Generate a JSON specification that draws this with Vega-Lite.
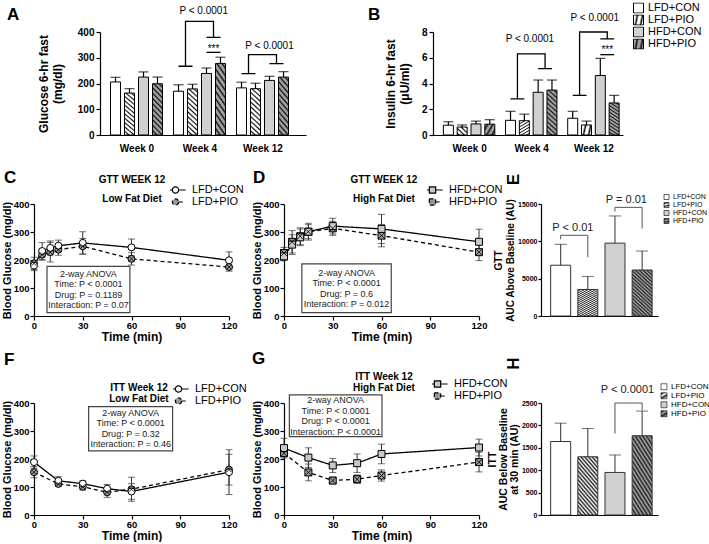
{
"$schema":"https://vega.github.io/schema/vega-lite/v6.json",
"padding":{"left":1,"top":2,"right":0,"bottom":0},
"autosize":{"type":"pad"},
"config":{
 "font":"Liberation Sans",
 "view":{"stroke":null},
 "axis":{"grid":false,"domainColor":"black","tickColor":"black","labelColor":"black","titleColor":"black","labelFontWeight":"bold","titleFontWeight":"bold","labelFontSize":10,"titleFontSize":12,"tickSize":4,"domainWidth":1.2,"tickWidth":1.2,"labelPadding":2,"titlePadding":2,"labelFlush":false,"labelOverlap":false},
 "legend":{"labelColor":"black","labelFontWeight":"normal"},
 "title":{"fontSize":17,"fontWeight":"bold","anchor":"start","frame":"group","offset":0,"baseline":"alphabetic","align":"left","color":"black"}
},
"params":[
 {"name":"gAW","expr":"{gradient:'linear',x1:1,y1:0,x2:0,y2:5,stops:[{offset:0,color:'#fff'},{offset:0.007,color:'#fff'},{offset:0.013,color:'#111'},{offset:0.02,color:'#fff'},{offset:0.027,color:'#fff'},{offset:0.033,color:'#111'},{offset:0.04,color:'#fff'},{offset:0.047,color:'#fff'},{offset:0.053,color:'#111'},{offset:0.06,color:'#fff'},{offset:0.067,color:'#fff'},{offset:0.073,color:'#111'},{offset:0.08,color:'#fff'},{offset:0.087,color:'#fff'},{offset:0.093,color:'#111'},{offset:0.1,color:'#fff'},{offset:0.107,color:'#fff'},{offset:0.113,color:'#111'},{offset:0.12,color:'#fff'},{offset:0.127,color:'#fff'},{offset:0.133,color:'#111'},{offset:0.14,color:'#fff'},{offset:0.147,color:'#fff'},{offset:0.153,color:'#111'},{offset:0.16,color:'#fff'},{offset:0.167,color:'#fff'},{offset:0.173,color:'#111'},{offset:0.18,color:'#fff'},{offset:0.187,color:'#fff'},{offset:0.193,color:'#111'},{offset:0.2,color:'#fff'},{offset:0.207,color:'#fff'},{offset:0.213,color:'#111'},{offset:0.22,color:'#fff'},{offset:0.227,color:'#fff'},{offset:0.233,color:'#111'}]}"},
 {"name":"gAG","expr":"{gradient:'linear',x1:1,y1:0,x2:0,y2:5,stops:[{offset:0,color:'#a0a0a0'},{offset:0.007,color:'#a0a0a0'},{offset:0.013,color:'#111'},{offset:0.02,color:'#a0a0a0'},{offset:0.027,color:'#a0a0a0'},{offset:0.033,color:'#111'},{offset:0.04,color:'#a0a0a0'},{offset:0.047,color:'#a0a0a0'},{offset:0.053,color:'#111'},{offset:0.06,color:'#a0a0a0'},{offset:0.067,color:'#a0a0a0'},{offset:0.073,color:'#111'},{offset:0.08,color:'#a0a0a0'},{offset:0.087,color:'#a0a0a0'},{offset:0.093,color:'#111'},{offset:0.1,color:'#a0a0a0'},{offset:0.107,color:'#a0a0a0'},{offset:0.113,color:'#111'},{offset:0.12,color:'#a0a0a0'},{offset:0.127,color:'#a0a0a0'},{offset:0.133,color:'#111'},{offset:0.14,color:'#a0a0a0'},{offset:0.147,color:'#a0a0a0'},{offset:0.153,color:'#111'},{offset:0.16,color:'#a0a0a0'},{offset:0.167,color:'#a0a0a0'},{offset:0.173,color:'#111'},{offset:0.18,color:'#a0a0a0'},{offset:0.187,color:'#a0a0a0'},{offset:0.193,color:'#111'},{offset:0.2,color:'#a0a0a0'},{offset:0.207,color:'#a0a0a0'},{offset:0.213,color:'#111'},{offset:0.22,color:'#a0a0a0'},{offset:0.227,color:'#a0a0a0'},{offset:0.233,color:'#111'}]}"},
 {"name":"gEW","expr":"{gradient:'linear',x1:1,y1:0,x2:0,y2:2.5,stops:[{offset:0,color:'#fff'},{offset:0.013,color:'#222'},{offset:0.026,color:'#fff'},{offset:0.039,color:'#222'},{offset:0.052,color:'#fff'},{offset:0.065,color:'#222'},{offset:0.078,color:'#fff'},{offset:0.091,color:'#222'},{offset:0.104,color:'#fff'},{offset:0.117,color:'#222'},{offset:0.13,color:'#fff'},{offset:0.143,color:'#222'},{offset:0.156,color:'#fff'},{offset:0.169,color:'#222'},{offset:0.182,color:'#fff'},{offset:0.195,color:'#222'},{offset:0.208,color:'#fff'},{offset:0.221,color:'#222'},{offset:0.234,color:'#fff'},{offset:0.247,color:'#222'},{offset:0.26,color:'#fff'},{offset:0.273,color:'#222'},{offset:0.286,color:'#fff'},{offset:0.299,color:'#222'},{offset:0.312,color:'#fff'},{offset:0.325,color:'#222'},{offset:0.338,color:'#fff'},{offset:0.351,color:'#222'},{offset:0.364,color:'#fff'},{offset:0.377,color:'#222'},{offset:0.39,color:'#fff'},{offset:0.403,color:'#222'},{offset:0.416,color:'#fff'},{offset:0.429,color:'#222'},{offset:0.442,color:'#fff'},{offset:0.455,color:'#222'},{offset:0.468,color:'#fff'},{offset:0.481,color:'#222'},{offset:0.494,color:'#fff'}]}"},
 {"name":"gEG","expr":"{gradient:'linear',x1:1,y1:0,x2:0,y2:2.5,stops:[{offset:0,color:'#aaa'},{offset:0.013,color:'#222'},{offset:0.026,color:'#aaa'},{offset:0.039,color:'#222'},{offset:0.052,color:'#aaa'},{offset:0.065,color:'#222'},{offset:0.078,color:'#aaa'},{offset:0.091,color:'#222'},{offset:0.104,color:'#aaa'},{offset:0.117,color:'#222'},{offset:0.13,color:'#aaa'},{offset:0.143,color:'#222'},{offset:0.156,color:'#aaa'},{offset:0.169,color:'#222'},{offset:0.182,color:'#aaa'},{offset:0.195,color:'#222'},{offset:0.208,color:'#aaa'},{offset:0.221,color:'#222'},{offset:0.234,color:'#aaa'},{offset:0.247,color:'#222'},{offset:0.26,color:'#aaa'},{offset:0.273,color:'#222'},{offset:0.286,color:'#aaa'},{offset:0.299,color:'#222'},{offset:0.312,color:'#aaa'},{offset:0.325,color:'#222'},{offset:0.338,color:'#aaa'},{offset:0.351,color:'#222'},{offset:0.364,color:'#aaa'},{offset:0.377,color:'#222'},{offset:0.39,color:'#aaa'},{offset:0.403,color:'#222'},{offset:0.416,color:'#aaa'},{offset:0.429,color:'#222'},{offset:0.442,color:'#aaa'},{offset:0.455,color:'#222'},{offset:0.468,color:'#aaa'},{offset:0.481,color:'#222'},{offset:0.494,color:'#aaa'}]}"}
],
"datasets":{
 "barsA":[
  {"week":"Week 0","group":"LFD+CON","x":0,"y":206,"err":18},
  {"week":"Week 0","group":"LFD+PIO","x":1,"y":163,"err":17},
  {"week":"Week 0","group":"HFD+CON","x":2,"y":225,"err":20},
  {"week":"Week 0","group":"HFD+PIO","x":3,"y":199,"err":26},
  {"week":"Week 4","group":"LFD+CON","x":4.5,"y":170,"err":25},
  {"week":"Week 4","group":"LFD+PIO","x":5.5,"y":179,"err":18},
  {"week":"Week 4","group":"HFD+CON","x":6.5,"y":239,"err":21},
  {"week":"Week 4","group":"HFD+PIO","x":7.5,"y":278,"err":24},
  {"week":"Week 12","group":"LFD+CON","x":9,"y":183,"err":22},
  {"week":"Week 12","group":"LFD+PIO","x":10,"y":180,"err":21},
  {"week":"Week 12","group":"HFD+CON","x":11,"y":212,"err":16},
  {"week":"Week 12","group":"HFD+PIO","x":12,"y":225,"err":21}
 ],
 "brkA":[
  {"id":"w4","i":0,"x":4.5,"y":267},{"id":"w4","i":1,"x":5.5,"y":267},{"id":"w4","i":2,"x":5,"y":267},{"id":"w4","i":3,"x":5,"y":441},{"id":"w4","i":4,"x":7,"y":441},{"id":"w4","i":5,"x":7,"y":379},{"id":"w4","i":6,"x":6.5,"y":379},{"id":"w4","i":7,"x":7.5,"y":379},
  {"id":"st","i":0,"x":6.5,"y":321},{"id":"st","i":1,"x":7.5,"y":321},
  {"id":"w12","i":0,"x":9,"y":238},{"id":"w12","i":1,"x":10,"y":238},{"id":"w12","i":2,"x":9.5,"y":238},{"id":"w12","i":3,"x":9.5,"y":312},{"id":"w12","i":4,"x":11.5,"y":312},{"id":"w12","i":5,"x":11.5,"y":277},{"id":"w12","i":6,"x":11,"y":277},{"id":"w12","i":7,"x":12,"y":277}
 ],
 "txtA":[{"x":6.3,"y":480,"text":"P < 0.0001"},{"x":7,"y":333,"text":"***"},{"x":11,"y":346,"text":"P < 0.0001"}],
 "barsB":[
  {"week":"Week 0","group":"LFD+CON","x":0,"y":0.76,"err":0.27},
  {"week":"Week 0","group":"LFD+PIO","x":1,"y":0.62,"err":0.16},
  {"week":"Week 0","group":"HFD+CON","x":2,"y":0.86,"err":0.22},
  {"week":"Week 0","group":"HFD+PIO","x":3,"y":0.84,"err":0.35},
  {"week":"Week 4","group":"LFD+CON","x":4.5,"y":1.14,"err":0.7},
  {"week":"Week 4","group":"LFD+PIO","x":5.5,"y":1.11,"err":0.51},
  {"week":"Week 4","group":"HFD+CON","x":6.5,"y":3.32,"err":0.95},
  {"week":"Week 4","group":"HFD+PIO","x":7.5,"y":3.49,"err":0.78},
  {"week":"Week 12","group":"LFD+CON","x":9,"y":1.3,"err":0.54},
  {"week":"Week 12","group":"LFD+PIO","x":10,"y":0.78,"err":0.3},
  {"week":"Week 12","group":"HFD+CON","x":11,"y":4.62,"err":1.33},
  {"week":"Week 12","group":"HFD+PIO","x":12,"y":2.49,"err":0.59}
 ],
 "brkB":[
  {"id":"w4","i":0,"x":4.5,"y":2.81},{"id":"w4","i":1,"x":5.5,"y":2.81},{"id":"w4","i":2,"x":5,"y":2.81},{"id":"w4","i":3,"x":5,"y":6.3},{"id":"w4","i":4,"x":7,"y":6.3},{"id":"w4","i":5,"x":7,"y":5.16},{"id":"w4","i":6,"x":6.5,"y":5.16},{"id":"w4","i":7,"x":7.5,"y":5.16},
  {"id":"w12","i":0,"x":9,"y":3.08},{"id":"w12","i":1,"x":10,"y":3.08},{"id":"w12","i":2,"x":9.5,"y":3.08},{"id":"w12","i":3,"x":9.5,"y":8.0},{"id":"w12","i":4,"x":11.5,"y":8.0},{"id":"w12","i":5,"x":11.5,"y":7.46},{"id":"w12","i":6,"x":11,"y":7.46},{"id":"w12","i":7,"x":12,"y":7.46},
  {"id":"st","i":0,"x":11,"y":6.24},{"id":"st","i":1,"x":12,"y":6.24}
 ],
 "txtB":[{"x":5.9,"y":7.43,"text":"P < 0.0001"},{"x":10.6,"y":9.1,"text":"P < 0.0001"},{"x":11.5,"y":6.6,"text":"***"}],
 "gttL":[
  {"group":"LFD+PIO","x":0,"y":188,"err":22},{"group":"LFD+PIO","x":5,"y":219,"err":20},{"group":"LFD+PIO","x":10,"y":228,"err":35},{"group":"LFD+PIO","x":15,"y":237,"err":20},{"group":"LFD+PIO","x":30,"y":249,"err":28},{"group":"LFD+PIO","x":60,"y":204,"err":22},{"group":"LFD+PIO","x":120,"y":175,"err":15},
  {"group":"LFD+CON","x":0,"y":180,"err":18},{"group":"LFD+CON","x":5,"y":232,"err":30},{"group":"LFD+CON","x":10,"y":243,"err":25},{"group":"LFD+CON","x":15,"y":251,"err":20},{"group":"LFD+CON","x":30,"y":261,"err":40},{"group":"LFD+CON","x":60,"y":245,"err":30},{"group":"LFD+CON","x":120,"y":199,"err":30}
 ],
 "gttH":[
  {"group":"HFD+PIO","x":0,"y":225,"err":20},{"group":"HFD+PIO","x":5,"y":265,"err":40},{"group":"HFD+PIO","x":10,"y":285,"err":30},{"group":"HFD+PIO","x":15,"y":301,"err":25},{"group":"HFD+PIO","x":30,"y":313,"err":25},{"group":"HFD+PIO","x":60,"y":287,"err":40},{"group":"HFD+PIO","x":120,"y":228,"err":30},
  {"group":"HFD+CON","x":0,"y":213,"err":15},{"group":"HFD+CON","x":5,"y":255,"err":35},{"group":"HFD+CON","x":10,"y":281,"err":30},{"group":"HFD+CON","x":15,"y":301,"err":30},{"group":"HFD+CON","x":30,"y":321,"err":28},{"group":"HFD+CON","x":60,"y":311,"err":52},{"group":"HFD+CON","x":120,"y":265,"err":45}
 ],
 "ittL":[
  {"group":"LFD+PIO","x":0,"y":153,"err":20},{"group":"LFD+PIO","x":15,"y":111,"err":8},{"group":"LFD+PIO","x":30,"y":101,"err":12},{"group":"LFD+PIO","x":45,"y":81,"err":18},{"group":"LFD+PIO","x":60,"y":92,"err":43},{"group":"LFD+PIO","x":120,"y":162,"err":55},
  {"group":"LFD+CON","x":0,"y":189,"err":22},{"group":"LFD+CON","x":15,"y":122,"err":15},{"group":"LFD+CON","x":30,"y":112,"err":10},{"group":"LFD+CON","x":45,"y":94,"err":15},{"group":"LFD+CON","x":60,"y":84,"err":28},{"group":"LFD+CON","x":120,"y":153,"err":80}
 ],
 "ittH":[
  {"group":"HFD+PIO","x":0,"y":221,"err":10},{"group":"HFD+PIO","x":15,"y":152,"err":30},{"group":"HFD+PIO","x":30,"y":123,"err":12},{"group":"HFD+PIO","x":45,"y":128,"err":15},{"group":"HFD+PIO","x":60,"y":141,"err":20},{"group":"HFD+PIO","x":120,"y":189,"err":35},
  {"group":"HFD+CON","x":0,"y":239,"err":35},{"group":"HFD+CON","x":15,"y":205,"err":35},{"group":"HFD+CON","x":30,"y":177,"err":25},{"group":"HFD+CON","x":45,"y":185,"err":33},{"group":"HFD+CON","x":60,"y":218,"err":35},{"group":"HFD+CON","x":120,"y":241,"err":30}
 ],
 "boxC":[{"x":8,"x2":59,"y":177,"y2":12}],
 "anvC":[{"x":33.5,"y":151,"text":"2-way ANOVA"},{"x":33.5,"y":113,"text":"Time: P < 0.0001"},{"x":33.5,"y":76,"text":"Drug: P = 0.1189"},{"x":33.5,"y":38,"text":"Interaction: P = 0.07"}],
 "ttlC":[{"x":60.3,"y":486,"text":"GTT WEEK 12"},{"x":60.3,"y":418,"text":"Low Fat Diet"}],
 "boxD":[{"x":11,"x2":66,"y":186,"y2":12}],
 "anvD":[{"x":38.5,"y":155,"text":"2-way ANOVA"},{"x":38.5,"y":118,"text":"Time: P < 0.0001"},{"x":38.5,"y":80,"text":"Drug: P = 0.6"},{"x":38.5,"y":43,"text":"Interaction: P = 0.012"}],
 "ttlD":[{"x":61.5,"y":486,"text":"GTT WEEK 12"},{"x":61.5,"y":418,"text":"High Fat Diet"}],
 "boxF":[{"x":33.6,"x2":85.3,"y":387,"y2":229}],
 "anvF":[{"x":59.5,"y":364,"text":"2-way ANOVA"},{"x":59.5,"y":327,"text":"Time: P < 0.0001"},{"x":59.5,"y":289,"text":"Drug: P = 0.32"},{"x":59.5,"y":252,"text":"Interaction: P = 0.46"}],
 "ttlF":[{"x":64.6,"y":454,"text":"ITT Week 12"},{"x":64.6,"y":414,"text":"Low Fat Diet"}],
 "boxG":[{"x":3.3,"x2":60.3,"y":429,"y2":280}],
 "anvG":[{"x":31.8,"y":411,"text":"2-way ANOVA"},{"x":31.8,"y":373,"text":"Time: P < 0.0001"},{"x":31.8,"y":336,"text":"Drug: P < 0.0001"},{"x":31.8,"y":298,"text":"Interaction: P < 0.0001"}],
 "ttlG":[{"x":61.5,"y":494,"text":"ITT Week 12"},{"x":61.5,"y":453,"text":"High Fat Diet"}],
 "aucE":[{"group":"LFD+CON","x":1,"y":6800,"err":2800},{"group":"LFD+PIO","x":2,"y":3550,"err":1750},{"group":"HFD+CON","x":3,"y":9760,"err":3640},{"group":"HFD+PIO","x":4,"y":6160,"err":2540}],
 "brkE":[{"id":"a","i":0,"x":1,"y":10270},{"id":"a","i":1,"x":1,"y":10810},{"id":"a","i":2,"x":2,"y":10810},{"id":"a","i":3,"x":2,"y":7870},{"id":"b","i":0,"x":3,"y":14000},{"id":"b","i":1,"x":3,"y":14550},{"id":"b","i":2,"x":4,"y":14550},{"id":"b","i":3,"x":4,"y":11730}],
 "txtE":[{"x":1.45,"y":11820,"text":"P < 0.01"},{"x":3.42,"y":15590,"text":"P = 0.01"}],
 "aucH":[{"group":"LFD+CON","x":1,"y":1640,"err":410},{"group":"LFD+PIO","x":2,"y":1300,"err":630},{"group":"HFD+CON","x":3,"y":950,"err":390},{"group":"HFD+PIO","x":4,"y":1770,"err":550}],
 "brkH":[{"id":"a","i":0,"x":3,"y":1818},{"id":"a","i":1,"x":3,"y":2500},{"id":"a","i":2,"x":4,"y":2500},{"id":"a","i":3,"x":4,"y":2334}],
 "txtH":[{"x":3.46,"y":2780,"text":"P < 0.0001"}]
},
"spacing":15,
"resolve":{"scale":{"x":"independent","y":"independent","fill":"independent","strokeDash":"independent"},"legend":{"fill":"independent","strokeDash":"independent"}},
"vconcat":[
 {"bounds":"flush","spacing":0,
  "resolve":{"scale":{"x":"independent","y":"independent","fill":"independent"},"legend":{"fill":"independent"}},
  "hconcat":[
   {"width":66,"height":1,"data":{"values":[]},"mark":"point"},
   {"width":206,"height":103,
    "title":{"text":"A","dx":-93,"dy":22},
    "encoding":{
     "x":{"field":"x","type":"quantitative","scale":{"domain":[-0.75,13.25],"nice":false,"zero":false},"axis":{"values":[1.5,6,10.5],"labelExpr":"datum.value == 1.5 ? 'Week 0' : datum.value == 6 ? 'Week 4' : 'Week 12'","ticks":false,"title":null,"labelPadding":8}},
     "y":{"field":"y","type":"quantitative","scale":{"domain":[0,400],"nice":false},"axis":{"values":[0,100,200,300,400],"title":["Glucose 6-hr fast","(mg/dl)"],"titlePadding":13,"titleLineHeight":14}}
    },
    "layer":[
     {"data":{"name":"barsA"},"mark":{"type":"errorbar","color":"black","thickness":1.2,"ticks":{"size":10,"color":"black"}},"encoding":{"yError":{"field":"err"}}},
     {"data":{"name":"barsA"},"mark":{"type":"bar","size":10,"orient":"vertical","stroke":"black","strokeWidth":1},"encoding":{"fill":{"field":"group","type":"nominal","scale":{"domain":["LFD+CON","LFD+PIO","HFD+CON","HFD+PIO"],"range":["#ffffff",{"expr":"gAW"},"#d0d0d0",{"expr":"gAG"}]},"legend":null}}},
     {"data":{"name":"brkA"},"mark":{"type":"line","color":"black","strokeWidth":1.3},"encoding":{"detail":{"field":"id"},"order":{"field":"i","type":"quantitative"}}},
     {"data":{"name":"txtA"},"mark":{"type":"text","fontSize":10,"color":"black"},"encoding":{"text":{"field":"text"}}}
    ]
   },
   {"width":127,"height":1,"data":{"values":[]},"mark":"point"},
   {"width":190,"height":103,
    "title":{"text":"B","dx":-65,"dy":25.5},
    "encoding":{
     "x":{"field":"x","type":"quantitative","scale":{"domain":[-0.75,12.28],"nice":false,"zero":false},"axis":{"values":[1.5,6,10.5],"labelExpr":"datum.value == 1.5 ? 'Week 0' : datum.value == 6 ? 'Week 4' : 'Week 12'","ticks":false,"title":null,"labelPadding":8}},
     "y":{"field":"y","type":"quantitative","scale":{"domain":[0,8],"nice":false},"axis":{"values":[0,2,4,6,8],"title":["Insulin 6-hr fast","(μU/ml)"],"titlePadding":10,"titleLineHeight":14}}
    },
    "layer":[
     {"data":{"name":"barsB"},"mark":{"type":"errorbar","color":"black","thickness":1.2,"ticks":{"size":10,"color":"black"}},"encoding":{"yError":{"field":"err"}}},
     {"data":{"name":"barsB"},"mark":{"type":"bar","size":10,"orient":"vertical","stroke":"black","strokeWidth":1},"encoding":{"fill":{"field":"group","type":"nominal","scale":{"domain":["LFD+CON","LFD+PIO","HFD+CON","HFD+PIO"],"range":["#ffffff",{"expr":"gAW"},"#d0d0d0",{"expr":"gAG"}]},"legend":{"title":null,"orient":"none","legendX":200,"legendY":-29.5,"symbolType":"square","symbolSize":100,"symbolStrokeColor":"black","symbolStrokeWidth":1,"labelFontSize":11,"rowPadding":0,"clipHeight":11,"padding":0,"labelOffset":4}}}},
     {"data":{"name":"brkB"},"mark":{"type":"line","color":"black","strokeWidth":1.3},"encoding":{"detail":{"field":"id"},"order":{"field":"i","type":"quantitative"}}},
     {"data":{"name":"txtB"},"mark":{"type":"text","fontSize":10,"color":"black"},"encoding":{"text":{"field":"text"}}}
    ]
   }
  ]
 },
 {"spacing":6,
  "resolve":{"scale":{"x":"independent","y":"independent","fill":"independent","strokeDash":"independent"},"legend":{"fill":"independent","strokeDash":"independent"}},
  "vconcat":[
   {"bounds":"flush","spacing":0,
    "resolve":{"scale":{"x":"independent","y":"independent","fill":"independent","strokeDash":"independent"},"legend":{"fill":"independent","strokeDash":"independent"}},
    "hconcat":[
     {"width":195,"height":112,
      "title":{"text":"C","dx":-30,"dy":16},
      "encoding":{
       "x":{"field":"x","type":"quantitative","scale":{"domain":[0,120],"nice":false,"zero":false},"axis":{"values":[0,30,60,90,120],"title":"Time (min)","titlePadding":2,"labelFontSize":9.5,"labelPadding":0}},
       "y":{"field":"y","type":"quantitative","scale":{"domain":[0,400],"nice":false},"axis":{"values":[0,100,200,300,400],"title":"Blood Glucose (mg/dl)","titleFontSize":11,"titlePadding":1,"labelFontSize":9.5,"labelPadding":1}}
      },
      "layer":[
       {"data":{"name":"gttL"},"mark":{"type":"errorbar","color":"#333","thickness":1,"ticks":{"size":7,"color":"#333"}},"encoding":{"yError":{"field":"err"}}},
       {"data":{"name":"gttL"},"mark":{"type":"line","color":"black","strokeWidth":1.3},"encoding":{"strokeDash":{"field":"group","type":"nominal","scale":{"domain":["LFD+CON","LFD+PIO"],"range":[[1,0],[4,3]]},"legend":{"title":null,"orient":"none","legendX":136,"legendY":-19.5,"symbolType":"M-2.9,0H-0.9M0.9,0H2.9M0.9,0A0.9,0.9,0,1,1,-0.9,0A0.9,0.9,0,1,1,0.9,0","symbolSize":49,"symbolStrokeColor":"black","symbolStrokeWidth":1.2,"labelFontSize":11,"labelOffset":11,"rowPadding":0,"clipHeight":11,"padding":0}}}},
       {"data":{"name":"gttL"},"mark":{"type":"point","shape":"circle","filled":true,"stroke":"black","strokeWidth":1,"size":49,"opacity":1},"encoding":{"fill":{"field":"group","type":"nominal","scale":{"domain":["LFD+CON","LFD+PIO"],"range":["#ffffff","#999999"]},"legend":{"title":null,"orient":"none","legendX":136,"legendY":-19.5,"symbolType":"M-2.9,0H-0.9M0.9,0H2.9M0.9,0A0.9,0.9,0,1,1,-0.9,0A0.9,0.9,0,1,1,0.9,0","symbolSize":49,"symbolStrokeColor":"black","symbolStrokeWidth":1.2,"labelFontSize":11,"labelOffset":11,"rowPadding":0,"clipHeight":11,"padding":0}}}},
       {"data":{"name":"gttL"},"transform":[{"filter":"datum.group == 'LFD+PIO'"}],"mark":{"type":"point","shape":"M-0.7,-0.7L0.7,0.7M-0.7,0.7L0.7,-0.7","filled":false,"stroke":"black","strokeWidth":0.8,"size":49,"opacity":1}},
       {"data":{"name":"boxC"},"mark":{"type":"rect","fill":"white","stroke":"#444","strokeWidth":1.2},"encoding":{"x2":{"field":"x2"},"y2":{"field":"y2"}}},
       {"data":{"name":"anvC"},"mark":{"type":"text","fontSize":9,"color":"#222"},"encoding":{"text":{"field":"text"}}},
       {"data":{"name":"ttlC"},"mark":{"type":"text","fontSize":10,"fontWeight":"bold","color":"black"},"encoding":{"text":{"field":"text"}}}
      ]
     },
     {"width":55,"height":1,"data":{"values":[]},"mark":"point"},
     {"width":195,"height":112,
      "title":{"text":"D","dx":-31,"dy":16},
      "encoding":{
       "x":{"field":"x","type":"quantitative","scale":{"domain":[0,120],"nice":false,"zero":false},"axis":{"values":[0,30,60,90,120],"title":"Time (min)","titlePadding":2,"labelFontSize":9.5,"labelPadding":0}},
       "y":{"field":"y","type":"quantitative","scale":{"domain":[0,400],"nice":false},"axis":{"values":[0,100,200,300,400],"title":"Blood Glucose (mg/dl)","titleFontSize":11,"titlePadding":1,"labelFontSize":9.5,"labelPadding":1}}
      },
      "layer":[
       {"data":{"name":"gttH"},"mark":{"type":"errorbar","color":"#333","thickness":1,"ticks":{"size":7,"color":"#333"}},"encoding":{"yError":{"field":"err"}}},
       {"data":{"name":"gttH"},"mark":{"type":"line","color":"black","strokeWidth":1.3},"encoding":{"strokeDash":{"field":"group","type":"nominal","scale":{"domain":["HFD+CON","HFD+PIO"],"range":[[1,0],[4,3]]},"legend":{"title":null,"orient":"none","legendX":143,"legendY":-19.5,"symbolType":"M-2.9,0H-0.9M0.9,0H2.9M-0.9,-0.9H0.9V0.9H-0.9Z","symbolSize":49,"symbolStrokeColor":"black","symbolStrokeWidth":1.2,"labelFontSize":11,"labelOffset":11,"rowPadding":0,"clipHeight":11,"padding":0}}}},
       {"data":{"name":"gttH"},"mark":{"type":"point","shape":"square","filled":true,"stroke":"black","strokeWidth":1,"size":49,"opacity":1},"encoding":{"fill":{"field":"group","type":"nominal","scale":{"domain":["HFD+CON","HFD+PIO"],"range":["#c8c8c8","#999999"]},"legend":{"title":null,"orient":"none","legendX":143,"legendY":-19.5,"symbolType":"M-2.9,0H-0.9M0.9,0H2.9M-0.9,-0.9H0.9V0.9H-0.9Z","symbolSize":49,"symbolStrokeColor":"black","symbolStrokeWidth":1.2,"labelFontSize":11,"labelOffset":11,"rowPadding":0,"clipHeight":11,"padding":0}}}},
       {"data":{"name":"gttH"},"transform":[{"filter":"datum.group == 'HFD+PIO'"}],"mark":{"type":"point","shape":"M-1,-1L1,1M-1,1L1,-1","filled":false,"stroke":"black","strokeWidth":0.8,"size":49,"opacity":1}},
       {"data":{"name":"boxD"},"mark":{"type":"rect","fill":"white","stroke":"#444","strokeWidth":1.2},"encoding":{"x2":{"field":"x2"},"y2":{"field":"y2"}}},
       {"data":{"name":"anvD"},"mark":{"type":"text","fontSize":9,"color":"#222"},"encoding":{"text":{"field":"text"}}},
       {"data":{"name":"ttlD"},"mark":{"type":"text","fontSize":10,"fontWeight":"bold","color":"black"},"encoding":{"text":{"field":"text"}}}
      ]
     },
     {"width":62,"height":1,"data":{"values":[]},"mark":"point"},
     {"width":117,"height":112,
      "title":{"text":"E","angle":-90,"dx":-7,"dy":-35},
      "encoding":{
       "x":{"field":"x","type":"quantitative","scale":{"domain":[0.46,4.4],"nice":false,"zero":false},"axis":{"labels":false,"ticks":false,"title":null}},
       "y":{"field":"y","type":"quantitative","scale":{"domain":[0,15000],"nice":false},"axis":{"values":[0,5000,10000,15000],"format":"d","title":["GTT","AUC Above Baseline (AU)"],"titleFontSize":10,"titleLineHeight":12,"titlePadding":2,"labelFontSize":7,"tickSize":3,"labelPadding":1}}
      },
      "layer":[
       {"data":{"name":"aucE"},"mark":{"type":"errorbar","color":"#333","thickness":1,"ticks":{"size":12,"color":"#333"}},"encoding":{"yError":{"field":"err"}}},
       {"data":{"name":"aucE"},"mark":{"type":"bar","size":20,"orient":"vertical","stroke":"#333","strokeWidth":1},"encoding":{"fill":{"field":"group","type":"nominal","scale":{"domain":["LFD+CON","LFD+PIO","HFD+CON","HFD+PIO"],"range":["#ffffff",{"expr":"gEW"},"#d0d0d0",{"expr":"gEG"}]},"legend":{"title":null,"orient":"none","legendX":122,"legendY":-10.5,"symbolType":"square","symbolSize":25,"symbolStrokeColor":"black","symbolStrokeWidth":0.6,"labelFontSize":7,"rowPadding":0,"clipHeight":7,"padding":0,"labelOffset":3}}}},
       {"data":{"name":"brkE"},"mark":{"type":"line","color":"#555","strokeWidth":1},"encoding":{"detail":{"field":"id"},"order":{"field":"i","type":"quantitative"}}},
       {"data":{"name":"txtE"},"mark":{"type":"text","fontSize":11,"color":"#222"},"encoding":{"text":{"field":"text"}}}
      ]
     }
    ]
   },
   {"bounds":"flush","spacing":0,
    "resolve":{"scale":{"x":"independent","y":"independent","fill":"independent","strokeDash":"independent"},"legend":{"fill":"independent","strokeDash":"independent"}},
    "hconcat":[
     {"width":195,"height":112,
      "title":{"text":"F","dx":-30,"dy":-10},
      "encoding":{
       "x":{"field":"x","type":"quantitative","scale":{"domain":[0,120],"nice":false,"zero":false},"axis":{"values":[0,30,60,90,120],"title":"Time (min)","titlePadding":2,"labelFontSize":9.5,"labelPadding":0}},
       "y":{"field":"y","type":"quantitative","scale":{"domain":[0,400],"nice":false},"axis":{"values":[0,100,200,300,400],"title":"Blood Glucose (mg/dl)","titleFontSize":11,"titlePadding":1,"labelFontSize":9.5,"labelPadding":1}}
      },
      "layer":[
       {"data":{"name":"ittL"},"mark":{"type":"errorbar","color":"#333","thickness":1,"ticks":{"size":7,"color":"#333"}},"encoding":{"yError":{"field":"err"}}},
       {"data":{"name":"ittL"},"mark":{"type":"line","color":"black","strokeWidth":1.3},"encoding":{"strokeDash":{"field":"group","type":"nominal","scale":{"domain":["LFD+CON","LFD+PIO"],"range":[[1,0],[4,3]]},"legend":{"title":null,"orient":"none","legendX":139,"legendY":-19.5,"symbolType":"M-2.9,0H-0.9M0.9,0H2.9M0.9,0A0.9,0.9,0,1,1,-0.9,0A0.9,0.9,0,1,1,0.9,0","symbolSize":49,"symbolStrokeColor":"black","symbolStrokeWidth":1.2,"labelFontSize":11,"labelOffset":11,"rowPadding":0,"clipHeight":11,"padding":0}}}},
       {"data":{"name":"ittL"},"mark":{"type":"point","shape":"circle","filled":true,"stroke":"black","strokeWidth":1,"size":49,"opacity":1},"encoding":{"fill":{"field":"group","type":"nominal","scale":{"domain":["LFD+CON","LFD+PIO"],"range":["#ffffff","#999999"]},"legend":{"title":null,"orient":"none","legendX":139,"legendY":-19.5,"symbolType":"M-2.9,0H-0.9M0.9,0H2.9M0.9,0A0.9,0.9,0,1,1,-0.9,0A0.9,0.9,0,1,1,0.9,0","symbolSize":49,"symbolStrokeColor":"black","symbolStrokeWidth":1.2,"labelFontSize":11,"labelOffset":11,"rowPadding":0,"clipHeight":11,"padding":0}}}},
       {"data":{"name":"ittL"},"transform":[{"filter":"datum.group == 'LFD+PIO'"}],"mark":{"type":"point","shape":"M-0.7,-0.7L0.7,0.7M-0.7,0.7L0.7,-0.7","filled":false,"stroke":"black","strokeWidth":0.8,"size":49,"opacity":1}},
       {"data":{"name":"boxF"},"mark":{"type":"rect","fill":"white","stroke":"#444","strokeWidth":1.2},"encoding":{"x2":{"field":"x2"},"y2":{"field":"y2"}}},
       {"data":{"name":"anvF"},"mark":{"type":"text","fontSize":9,"color":"#222"},"encoding":{"text":{"field":"text"}}},
       {"data":{"name":"ttlF"},"mark":{"type":"text","fontSize":10,"fontWeight":"bold","color":"black"},"encoding":{"text":{"field":"text"}}}
      ]
     },
     {"width":55,"height":1,"data":{"values":[]},"mark":"point"},
     {"width":195,"height":112,
      "title":{"text":"G","dx":-32,"dy":0},
      "encoding":{
       "x":{"field":"x","type":"quantitative","scale":{"domain":[0,120],"nice":false,"zero":false},"axis":{"values":[0,30,60,90,120],"title":"Time (min)","titlePadding":2,"labelFontSize":9.5,"labelPadding":0}},
       "y":{"field":"y","type":"quantitative","scale":{"domain":[0,400],"nice":false},"axis":{"values":[0,100,200,300,400],"title":"Blood Glucose (mg/dl)","titleFontSize":11,"titlePadding":1,"labelFontSize":9.5,"labelPadding":1}}
      },
      "layer":[
       {"data":{"name":"ittH"},"mark":{"type":"errorbar","color":"#333","thickness":1,"ticks":{"size":7,"color":"#333"}},"encoding":{"yError":{"field":"err"}}},
       {"data":{"name":"ittH"},"mark":{"type":"line","color":"black","strokeWidth":1.3},"encoding":{"strokeDash":{"field":"group","type":"nominal","scale":{"domain":["HFD+CON","HFD+PIO"],"range":[[1,0],[4,3]]},"legend":{"title":null,"orient":"none","legendX":148,"legendY":-24.5,"symbolType":"M-2.9,0H-0.9M0.9,0H2.9M-0.9,-0.9H0.9V0.9H-0.9Z","symbolSize":49,"symbolStrokeColor":"black","symbolStrokeWidth":1.2,"labelFontSize":11,"labelOffset":11,"rowPadding":0,"clipHeight":11,"padding":0}}}},
       {"data":{"name":"ittH"},"mark":{"type":"point","shape":"square","filled":true,"stroke":"black","strokeWidth":1,"size":49,"opacity":1},"encoding":{"fill":{"field":"group","type":"nominal","scale":{"domain":["HFD+CON","HFD+PIO"],"range":["#c8c8c8","#999999"]},"legend":{"title":null,"orient":"none","legendX":148,"legendY":-24.5,"symbolType":"M-2.9,0H-0.9M0.9,0H2.9M-0.9,-0.9H0.9V0.9H-0.9Z","symbolSize":49,"symbolStrokeColor":"black","symbolStrokeWidth":1.2,"labelFontSize":11,"labelOffset":11,"rowPadding":0,"clipHeight":11,"padding":0}}}},
       {"data":{"name":"ittH"},"transform":[{"filter":"datum.group == 'HFD+PIO'"}],"mark":{"type":"point","shape":"M-1,-1L1,1M-1,1L1,-1","filled":false,"stroke":"black","strokeWidth":0.8,"size":49,"opacity":1}},
       {"data":{"name":"boxG"},"mark":{"type":"rect","fill":"white","stroke":"#444","strokeWidth":1.2},"encoding":{"x2":{"field":"x2"},"y2":{"field":"y2"}}},
       {"data":{"name":"anvG"},"mark":{"type":"text","fontSize":9,"color":"#222"},"encoding":{"text":{"field":"text"}}},
       {"data":{"name":"ttlG"},"mark":{"type":"text","fontSize":10,"fontWeight":"bold","color":"black"},"encoding":{"text":{"field":"text"}}}
      ]
     },
     {"width":62,"height":1,"data":{"values":[]},"mark":"point"},
     {"width":117,"height":112,
      "title":{"text":"H","angle":-90,"dx":-3.5,"dy":-35},
      "encoding":{
       "x":{"field":"x","type":"quantitative","scale":{"domain":[0.46,4.4],"nice":false,"zero":false},"axis":{"labels":false,"ticks":false,"title":null}},
       "y":{"field":"y","type":"quantitative","scale":{"domain":[0,2500],"nice":false},"axis":{"values":[0,500,1000,1500,2000,2500],"format":"d","title":["ITT","AUC Below Baseline","at 30 min (AU)"],"titleFontSize":10.5,"titleLineHeight":11,"titlePadding":2,"labelFontSize":7,"tickSize":3,"labelPadding":1}}
      },
      "layer":[
       {"data":{"name":"aucH"},"mark":{"type":"errorbar","color":"#333","thickness":1,"ticks":{"size":12,"color":"#333"}},"encoding":{"yError":{"field":"err"}}},
       {"data":{"name":"aucH"},"mark":{"type":"bar","size":20,"orient":"vertical","stroke":"#333","strokeWidth":1},"encoding":{"fill":{"field":"group","type":"nominal","scale":{"domain":["LFD+CON","LFD+PIO","HFD+CON","HFD+PIO"],"range":["#ffffff",{"expr":"gEW"},"#d0d0d0",{"expr":"gEG"}]},"legend":{"title":null,"orient":"none","legendX":119,"legendY":-20.5,"symbolType":"square","symbolSize":36,"symbolStrokeColor":"black","symbolStrokeWidth":0.6,"labelFontSize":8,"rowPadding":0,"clipHeight":8.5,"padding":0,"labelOffset":3}}}},
       {"data":{"name":"brkH"},"mark":{"type":"line","color":"#555","strokeWidth":1},"encoding":{"detail":{"field":"id"},"order":{"field":"i","type":"quantitative"}}},
       {"data":{"name":"txtH"},"mark":{"type":"text","fontSize":11,"color":"#222"},"encoding":{"text":{"field":"text"}}}
      ]
     }
    ]
   }
  ]
 }
]
}
